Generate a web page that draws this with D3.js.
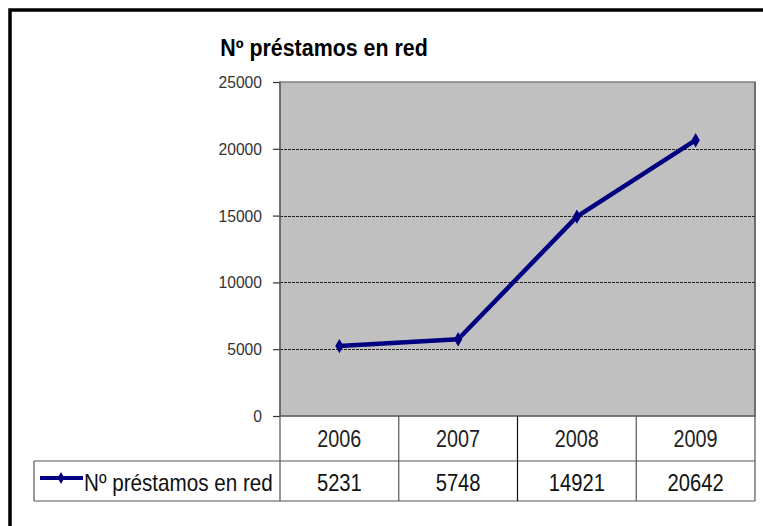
<!DOCTYPE html>
<html>
<head>
<meta charset="utf-8">
<script src="https://cdn.jsdelivr.net/npm/d3@7"></script>
<style>
  body { margin: 0; background: #fff; }
  text { font-family: "Liberation Sans", Arial, sans-serif; }
</style>
</head>
<body>
<svg id="chart" width="763" height="526"></svg>
<script>
const title = "Nº préstamos en red"
const years = ["2006", "2007", "2008", "2009"]
const loans = [5231, 5748, 14921, 20642]
const yTicks = [0, 5000, 10000, 15000, 20000, 25000]

const svg = d3.select("#chart")
const plotL = 280, plotR = 755, plotT = 82, plotB = 416
const row1 = 461, row2 = 501, legendLeft = 34

// the source used a narrow face, so squeeze glyphs horizontally
function narrow(sel, k) {
  sel.each(function () {
    const w = this.getComputedTextLength()
    d3.select(this).attr("textLength", w * k).attr("lengthAdjust", "spacingAndGlyphs")
  })
}

// outer frame (only top and left edges show in the picture)
svg.append("path")
  .attr("d", "M10,530V10H770")
  .attr("fill", "none")
  .attr("stroke", "#000")
  .attr("stroke-width", 3.5)

svg.append("text")
  .attr("x", 324).attr("y", 56)
  .attr("text-anchor", "middle")
  .attr("font-size", 23).attr("font-weight", "bold")
  .text(title)
  .call(narrow, 0.93)

const x = d3.scaleBand().domain(years).range([plotL, plotR])
const y = d3.scaleLinear().domain([0, 25000]).range([plotB, plotT])

// plot area
svg.append("rect")
  .attr("x", plotL).attr("y", plotT)
  .attr("width", plotR - plotL).attr("height", plotB - plotT)
  .attr("fill", "#c0c0c0")
  .attr("stroke", "#808080").attr("stroke-width", 1.5)

svg.append("g").selectAll("line")
  .data(yTicks.filter(d => d > 0 && d < 25000))
  .join("line")
  .attr("x1", plotL).attr("x2", plotR)
  .attr("y1", d => Math.round(y(d)) + 0.5).attr("y2", d => Math.round(y(d)) + 0.5)
  .attr("stroke", "#222").attr("stroke-dasharray", "3,1")

const yAxis = svg.append("g")
  .attr("transform", `translate(${plotL},0)`)
  .call(d3.axisLeft(y).tickValues(yTicks).tickSize(7).tickPadding(11).tickFormat(d3.format("d")))
yAxis.select(".domain").remove()
yAxis.selectAll("line").attr("stroke", "#333").attr("stroke-width", 1.2)
yAxis.selectAll("text")
  .attr("font-size", 17).attr("fill", "#333")
  .attr("font-family", "Liberation Sans, Arial, sans-serif")
  .call(narrow, 0.92)

// data table
const grid = svg.append("g").attr("stroke", "#555").attr("stroke-width", 1.2)
grid.append("line").attr("x1", plotL).attr("x2", plotL).attr("y1", plotT).attr("y2", row2)
grid.append("line").attr("x1", plotR).attr("x2", plotR).attr("y1", plotT).attr("y2", row2)
grid.append("line").attr("x1", plotL).attr("x2", plotR).attr("y1", plotB).attr("y2", plotB)
grid.append("line").attr("x1", legendLeft).attr("x2", plotR).attr("y1", row1).attr("y2", row1)
grid.append("line").attr("x1", legendLeft).attr("x2", plotR).attr("y1", row2).attr("y2", row2)
grid.append("line").attr("x1", legendLeft).attr("x2", legendLeft).attr("y1", row1).attr("y2", row2)
grid.selectAll(".sep")
  .data(years.slice(1))
  .join("line")
  .attr("class", "sep")
  .attr("x1", d => x(d)).attr("x2", d => x(d))
  .attr("y1", plotB).attr("y2", row2)
  .attr("stroke", d => d === "2008" ? "#111" : "#555")

svg.append("g").selectAll("text")
  .data(years)
  .join("text")
  .attr("x", d => x(d) + x.bandwidth() / 2).attr("y", 447)
  .attr("text-anchor", "middle").attr("font-size", 23).attr("fill", "#222")
  .text(d => d)
  .call(narrow, 0.86)

svg.append("g").selectAll("text")
  .data(loans)
  .join("text")
  .attr("x", (d, i) => x(years[i]) + x.bandwidth() / 2).attr("y", 491)
  .attr("text-anchor", "middle").attr("font-size", 24).attr("fill", "#111")
  .text(d => d)
  .call(narrow, 0.84)

// legend key
const navy = "#000080"
svg.append("line")
  .attr("x1", 40).attr("x2", 83).attr("y1", 478).attr("y2", 478)
  .attr("stroke", navy).attr("stroke-width", 4)
svg.append("path")
  .attr("d", d3.symbol(d3.symbolDiamond, 40)())
  .attr("transform", "translate(61,478)")
  .attr("fill", navy)
svg.append("text")
  .attr("x", 84).attr("y", 491)
  .attr("font-size", 24).attr("fill", "#111")
  .text(title)
  .call(narrow, 0.86)

// series
const pts = loans.map((v, i) => [x(years[i]) + x.bandwidth() / 2, y(v)])
svg.append("path")
  .attr("d", d3.line()(pts))
  .attr("fill", "none")
  .attr("stroke", navy).attr("stroke-width", 4.5)
  .attr("stroke-linejoin", "round")
svg.append("g").selectAll("path")
  .data(pts)
  .join("path")
  .attr("d", d3.symbol(d3.symbolDiamond, 60)())
  .attr("transform", d => `translate(${d[0]},${d[1]})`)
  .attr("fill", navy)
</script>
</body>
</html>
